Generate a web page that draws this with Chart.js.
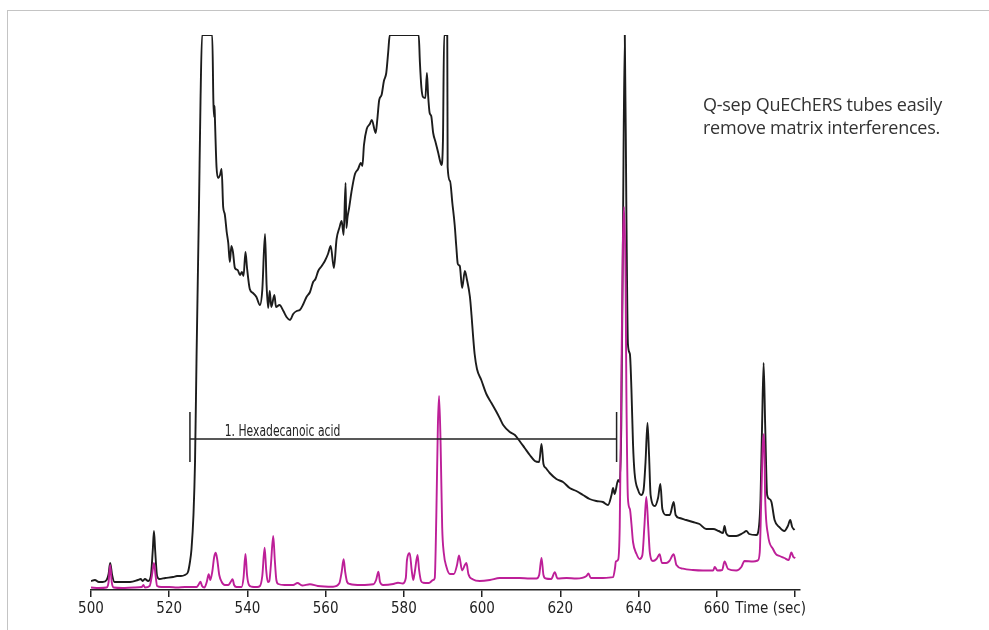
<!DOCTYPE html>
<html>
<head>
<meta charset="utf-8">
<script src="https://cdn.jsdelivr.net/npm/chart.js@4.4.1/dist/chart.umd.min.js"></script>
<style>
  html, body { margin: 0; padding: 0; background: #fff; }
  #wrap { position: relative; width: 989px; height: 630px; overflow: hidden; }
  #frame { position: absolute; left: 7px; top: 10px; width: 1000px; height: 700px;
           border-top: 1.5px solid #c4c4c4; border-left: 1.5px solid #c4c4c4; }
  #c { position: absolute; left: 0; top: 0; }
  #note { position: absolute; left: 703px; top: 93px; font-family: "Open Sans", sans-serif;
          font-size: 18px; line-height: 23px; letter-spacing: -0.25px; color: #333; }
</style>
</head>
<body>
<div id="wrap">
  <div id="frame"></div>
  <canvas id="c" width="989" height="630"></canvas>
  <div id="note">Q-sep QuEChERS tubes easily<br>remove matrix interferences.</div>
</div>
<script>
// ---- data (time in seconds, signal in arbitrary units; 555 = detector saturation) ----
const blackTime = [500,501,502,503,504,504.5,504.9,505.4,506,508,510,512,512.7,513.2,513.8,514.6,515.3,515.8,516.1,516.4,516.9,517.5,519,521,522,523,524,524.8,525.3,525.7,526.2,526.6,527.0,527.6,528.0,528.4,
531.0,531.3,531.5,531.6,531.7,532.1,532.5,533.0,533.4,533.8,534.2,534.7,535.1,535.5,535.9,536.3,536.8,537.5,538.1,538.6,539.0,539.5,539.9,540.6,541.4,542.3,543.2,543.8,544.5,544.9,545.3,545.7,546.1,546.9,547.3,548.2,549.2,550.0,550.9,551.7,552.6,553.4,554.3,555.1,556.0,556.8,557.4,558.1,559.0,559.8,560.6,561.3,562.1,562.8,563.5,564.1,564.6,565.1,565.3,565.6,566.0,566.6,567.5,568.3,569.0,569.4,569.8,570.5,571.3,571.8,572.8,573.2,573.7,574.3,574.9,575.5,576.0,576.4,
583.8,584.1,584.5,584.9,585.5,585.9,586.2,586.6,587.0,587.5,588.1,588.8,589.2,589.6,590.0,590.3,591.1,591.2,591.8,592.4,593.0,593.4,593.8,594.3,594.9,595.6,596.1,596.9,597.3,597.7,598.1,598.7,599.8,601.1,602.4,603.7,604.5,605.4,607.1,608.4,609.6,610.9,612.2,613.5,614.6,615.2,615.7,616.3,617.3,619.0,620.7,622.4,624.1,625.8,627.5,629.2,630.9,632.2,633.1,633.5,633.9,634.8,635.2,635.6,636.0,636.5,636.9,637.3,637.8,638.2,638.6,639.0,639.9,640.7,641.3,641.8,642.3,642.7,643.1,644.2,645.0,645.6,646.1,647.1,648.0,649.0,649.5,650.5,652.2,653.9,655.6,657.3,659.1,660.5,661.6,662.0,662.4,663.3,665.0,666.7,667.6,668.3,670.1,670.8,671.2,671.6,672.0,672.4,672.9,673.5,674.0,674.8,676.0,677.3,678.2,678.8,679.3,679.9];
const blackSignal = [9,10,8,8,10,16,27,15,8,8,8,10,11,9,11,9,14,40,59,40,14,11,12,13,14,14,15,18,28,41,75,128,236,380,488,555,
555,488,473,484,470,423,412,415,421,383,376,358,347,328,344,338,322,320,315,318,314,338,322,301,297,293,285,300,356,305,282,299,283,295,283,285,279,273,270,276,279,280,286,293,298,308,311,319,324,329,336,344,322,351,362,369,355,407,362,373,382,398,416,421,427,424,445,461,466,470,457,470,490,495,509,517,538,555,
555,528,502,493,492,517,495,477,474,457,448,437,430,425,450,555,555,423,409,387,365,344,326,324,302,319,311,293,275,254,236,221,210,196,187,178,172,165,158,155,149,142,135,129,128,146,126,122,117,111,108,102,99,95,91,89,88,85,95,102,96,110,108,164,344,555,380,246,236,200,146,117,100,95,100,128,167,135,95,84,92,106,81,75,75,88,75,72,70,68,66,61,61,59,57,64,57,54,54,57,59,56,55,63,91,164,227,164,95,91,88,70,63,59,64,70,63,60];

const magentaTime = [500,502,504,504.5,504.9,505.3,505.8,508,511,513,513.4,513.8,515.0,515.6,516.1,516.5,516.9,518,520,522,524,526,527.0,527.6,528.0,528.4,529.0,529.6,530.1,530.5,531.0,531.5,531.9,532.3,532.8,533.4,534.2,535.1,535.7,536.2,536.6,537.2,538.5,539.0,539.5,539.9,540.4,541.1,542.5,543.2,543.8,544.4,544.8,545.2,545.6,546.0,546.6,547.0,547.4,547.9,549.5,551.7,552.8,554,556,558,561.9,563.5,564.1,564.6,565.0,565.5,566.2,569,572.2,572.9,573.5,573.9,574.7,577.3,578.5,579.7,580.5,580.8,581.5,582.0,582.4,582.8,583.5,583.9,584.4,584.9,586.4,587.5,587.9,588.3,588.7,589.0,589.4,589.8,590.2,590.9,591.8,592.8,593.6,594.1,594.9,595.6,596.0,596.5,597.7,599.4,602.0,604.5,607.1,609.6,612.2,613.9,614.6,615.2,615.7,616.3,617.7,618.6,619.3,621.6,624.1,626.7,627.2,627.8,630.9,633.5,634.0,634.2,634.8,635.2,635.6,636.0,636.3,636.7,636.9,637.3,637.8,638.2,638.6,639.5,640.3,641.0,641.5,642.0,642.5,642.9,643.7,644.6,645.4,646.0,647.1,647.9,649.0,649.7,651.4,653.9,656.5,659.1,659.5,660.2,661.4,662.0,662.9,665.0,666.3,667.1,669.3,670.5,671.0,671.4,671.8,672.1,672.4,673.1,674.4,675.2,676.1,677.3,678.4,679.1,679.6,680.1];
const magentaSignal = [2.5,2,2.5,8,25,8,2.5,2,2.5,3,5,2.5,4,15,27,15,4,3,3,2.5,3,3,3,6,8.3,4,2.5,8,15.7,10,18,33,37.3,30,15,8.3,5,5,8,10.7,5,3,3,12,36,15,5,3.3,3,4,14,42.3,20,8,9,25,54,30,10,6,5,5,7,4.5,5.7,4,3.3,6.7,18,30.7,18,8,6,5,5.7,10,18.3,8,5,6,7.3,6.5,12,30,36.7,20,10,18,35,20,9,7.3,7,10,12,73.5,164,194,146,63,37.5,23,16,16,25,34.6,19.5,25,27,16,10.5,9,10,12,12,12,11.5,11.5,15,32,15,11.5,11,17.7,11.5,12,11.5,14,16.6,12,12,12.8,22,28.5,30.3,63,200,344,383,308,200,91.5,81,66,48,36,31,35,63,93,63,37.5,29,31,35.7,27,27,29,35.7,25,21.3,20,19.5,19.5,23,19.5,20,28.5,21,19.5,23,29,28.5,29.5,37.5,91.5,146,156,91.5,55.5,41,35.7,34,32,30,37.5,33,32];

const tickValues = [500,520,540,560,580,600,620,640,660,680];
const lastTickLabel = 'Time (sec)';

const peakLabel = '1. Hexadecanoic acid';
const peakStart = 525.3, peakEnd = 634.4, peakLevel = 151, peakBarHigh = 178, peakBarLow = 128;
const peakTextTime = 534.2, peakTextLevel = 154;

const toXY = (ts, vs) => ts.map((t, i) => ({ x: t, y: vs[i] }));

const narrowFont = '"Liberation Sans Narrow", "DejaVu Sans Condensed", Roboto, sans-serif';

const overlay = {
  id: 'overlay',
  afterDraw(chart) {
    const ctx = chart.ctx, xs = chart.scales.x, ys = chart.scales.y;
    ctx.save();
    // peak window annotation
    ctx.strokeStyle = '#222';
    ctx.lineWidth = 1.5;
    const x1 = xs.getPixelForValue(peakStart), x2 = xs.getPixelForValue(peakEnd);
    const yl = ys.getPixelForValue(peakLevel);
    ctx.beginPath();
    ctx.moveTo(x1, yl); ctx.lineTo(x2, yl);
    ctx.moveTo(x1, ys.getPixelForValue(peakBarHigh)); ctx.lineTo(x1, ys.getPixelForValue(peakBarLow));
    ctx.moveTo(x2, ys.getPixelForValue(peakBarHigh)); ctx.lineTo(x2, ys.getPixelForValue(peakBarLow));
    ctx.stroke();
    ctx.fillStyle = '#222';
    ctx.textBaseline = 'alphabetic';
    ctx.save();
    ctx.translate(xs.getPixelForValue(peakTextTime), ys.getPixelForValue(peakTextLevel));
    ctx.scale(0.8, 1);
    ctx.font = '15px ' + narrowFont;
    ctx.textAlign = 'left';
    ctx.fillText(peakLabel, 0, 0);
    ctx.restore();
    // axis title in place of last tick label
    ctx.font = '15px ' + narrowFont;
    ctx.textAlign = 'right';
    ctx.fillText(lastTickLabel, xs.getPixelForValue(680) + 11, xs.bottom - 17);
    ctx.restore();
  }
};

new Chart(document.getElementById('c'), {
  type: 'line',
  data: {
    datasets: [
      { data: toXY(magentaTime, magentaSignal), borderColor: '#bd1f98', borderWidth: 1.9,
        pointRadius: 0, cubicInterpolationMode: 'monotone', fill: false },
      { data: toXY(blackTime, blackSignal), borderColor: '#1c1c1c', borderWidth: 1.9,
        pointRadius: 0, cubicInterpolationMode: 'monotone', fill: false }
    ]
  },
  options: {
    responsive: false,
    animation: false,
    layout: { padding: { left: 91, right: 189, top: 35, bottom: 0 } },
    plugins: { legend: { display: false }, tooltip: { enabled: false } },
    scales: {
      x: {
        type: 'linear', min: 500, max: 681.3,
        afterFit(scale) { scale.height = 40; },
        afterBuildTicks(scale) { scale.ticks = tickValues.map(v => ({ value: v })); },
        ticks: {
          includeBounds: false, autoSkip: false, maxRotation: 0, padding: 3,
          color: '#222', font: { family: narrowFont, size: 15 },
          callback: (v) => (v === 680 ? '' : String(v))
        },
        grid: { drawOnChartArea: false, drawTicks: true, tickLength: 7, color: '#222', lineWidth: 1.5 },
        border: { display: true, color: '#222', width: 1.5 }
      },
      y: { type: 'linear', min: 0, max: 555, display: false }
    }
  },
  plugins: [overlay]
});
</script>
</body>
</html>
